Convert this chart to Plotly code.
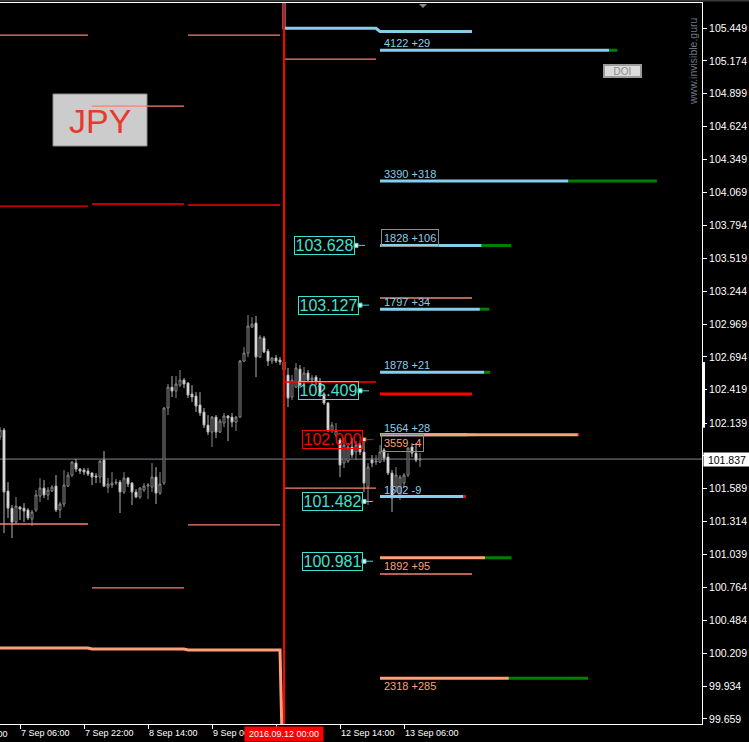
import plotly.graph_objects as go

FONT = "Liberation Sans, Arial, sans-serif"
SKY = "#87CEEB"
LSALMON = "#FFA07A"
SALMON = "#FA8072"
TURQ = "#40E0D0"
GREEN = "#008000"
RED = "#FF0000"

# H1 USDJPY bars, bar index 0 = 2016.09.12 00:00
first_bar = -71
bar_open = [102.021, 102.080, 101.569, 101.426, 101.309, 101.435, 101.426, 101.410, 101.334, 101.410,
            101.527, 101.594, 101.536, 101.569, 101.611, 101.410, 101.460, 101.611, 101.703, 101.804,
            101.753, 101.745, 101.737, 101.720, 101.695, 101.686, 101.829, 101.602, 101.619, 101.636,
            101.644, 101.561, 101.678, 101.636, 101.561, 101.519, 101.578, 101.611, 101.602, 101.686,
            101.552, 101.636, 102.265, 102.440, 102.407, 102.457, 102.499, 102.474, 102.382, 102.365,
            102.290, 102.231, 102.122, 102.063, 102.189, 102.063, 102.139, 102.198, 102.189, 102.147,
            102.189, 102.659, 102.725, 102.943, 102.977, 102.692, 102.851, 102.742, 102.659, 102.684,
            102.667, 102.650, 102.541, 102.357, 102.440, 102.591, 102.474, 102.558, 102.499, 102.524,
            102.483, 102.382, 102.307, 102.080, 102.038, 101.996, 101.804, 101.820, 101.938, 101.896,
            101.954, 101.896, 101.602, 101.829, 101.812, 101.812, 101.913, 101.854, 101.720, 101.602,
            101.519, 101.636, 101.703, 101.938, 101.887, 101.829]
bar_high = [102.105, 102.097, 101.644, 101.452, 101.519, 101.443, 101.468, 101.426, 101.410, 101.578,
            101.678, 101.661, 101.602, 101.619, 101.703, 101.477, 101.745, 101.728, 101.820, 101.837,
            101.762, 101.762, 101.762, 101.728, 101.720, 101.829, 101.904, 101.678, 101.728, 101.670,
            101.661, 101.728, 101.686, 101.644, 101.586, 101.602, 101.636, 101.636, 101.804, 101.770,
            101.728, 102.273, 102.466, 102.533, 102.533, 102.583, 102.516, 102.483, 102.457, 102.398,
            102.398, 102.265, 102.206, 102.198, 102.206, 102.172, 102.223, 102.206, 102.223, 102.198,
            102.667, 102.776, 103.044, 103.027, 103.036, 102.876, 102.868, 102.759, 102.692, 102.709,
            102.692, 102.684, 102.600, 102.541, 102.642, 102.625, 102.608, 102.583, 102.541, 102.541,
            102.516, 102.398, 102.315, 102.147, 102.139, 102.013, 102.013, 101.971, 102.013, 101.988,
            101.971, 101.980, 101.804, 101.871, 101.871, 101.954, 101.929, 101.887, 101.745, 101.770,
            101.703, 101.720, 101.938, 101.971, 101.971, 101.887]
bar_low = [101.996, 101.217, 101.343, 101.175, 101.293, 101.326, 101.309, 101.326, 101.276, 101.393,
           101.477, 101.510, 101.494, 101.561, 101.393, 101.343, 101.435, 101.602, 101.686, 101.728,
           101.711, 101.703, 101.695, 101.619, 101.636, 101.636, 101.602, 101.552, 101.594, 101.619,
           101.385, 101.544, 101.602, 101.452, 101.510, 101.502, 101.561, 101.502, 101.561, 101.460,
           101.536, 101.619, 102.206, 102.357, 102.348, 102.440, 102.432, 102.348, 102.315, 102.231,
           102.198, 102.097, 102.038, 101.938, 102.013, 102.055, 102.105, 101.988, 102.105, 102.072,
           102.181, 102.650, 102.692, 102.935, 102.524, 102.684, 102.725, 102.617, 102.633, 102.642,
           102.625, 102.516, 102.273, 102.332, 102.432, 102.432, 102.440, 102.483, 102.457, 102.457,
           102.357, 102.290, 102.063, 102.055, 102.021, 101.686, 101.762, 101.804, 101.846, 101.829,
           101.871, 101.561, 101.452, 101.770, 101.787, 101.804, 101.812, 101.703, 101.393, 101.561,
           101.494, 101.602, 101.686, 101.854, 101.812, 101.770]
bar_close = [102.080, 101.561, 101.426, 101.309, 101.443, 101.418, 101.401, 101.343, 101.393, 101.536,
             101.594, 101.536, 101.578, 101.602, 101.410, 101.460, 101.619, 101.703, 101.812, 101.753,
             101.737, 101.728, 101.711, 101.686, 101.686, 101.820, 101.611, 101.628, 101.636, 101.644,
             101.561, 101.678, 101.628, 101.561, 101.519, 101.594, 101.611, 101.619, 101.686, 101.552,
             101.628, 102.265, 102.440, 102.407, 102.466, 102.499, 102.466, 102.373, 102.357, 102.281,
             102.223, 102.122, 102.063, 102.189, 102.063, 102.156, 102.198, 102.181, 102.147, 102.189,
             102.659, 102.725, 102.952, 102.968, 102.692, 102.859, 102.734, 102.659, 102.684, 102.659,
             102.650, 102.583, 102.348, 102.499, 102.600, 102.457, 102.558, 102.499, 102.516, 102.483,
             102.382, 102.307, 102.080, 102.122, 102.080, 101.787, 101.954, 101.938, 101.871, 101.954,
             101.896, 101.636, 101.770, 101.804, 101.820, 101.896, 101.846, 101.720, 101.510, 101.703,
             101.686, 101.703, 101.929, 101.887, 101.829, 101.837]
bar_index = list(range(first_bar, first_bar + len(bar_open)))
last_price = 101.837

# axis ticks (the 9 Sep 22:00 and 101.864 labels sit under the red / white price boxes)
x_tick_bars = [-66, -50, -34, -18, -2, 14, 30]
x_tick_text = ["7 Sep 06:00", "7 Sep 22:00", "8 Sep 14:00", "9 Sep 06:00",
               "", "12 Sep 14:00", "13 Sep 06:00"]
y_tick_vals = [105.449, 105.174, 104.899, 104.624, 104.349, 104.069, 103.794, 103.519, 103.244,
               102.969, 102.694, 102.419, 102.139, 101.864, 101.589, 101.314, 101.039, 100.764,
               100.484, 100.209, 99.934, 99.659]
y_tick_text = ["" if v == 101.864 else f"{v:.3f}" for v in y_tick_vals]
X_RANGE = [-71, 104.5]
Y_RANGE = [99.617, 105.659]

# daily levels (start bar, end bar, price)
thin_salmon_start = [-72, -24, -48, 0, 24, -72, -48, -24, 0, 24]
thin_salmon_end = [-49, -1, -25, 23, 47, -49, -25, -1, 23, 47]
thin_salmon_price = [105.390, 105.390, 104.795, 105.189, 103.187, 101.293, 100.757, 101.285, 101.594, 100.874]
thin_red_start = [-72, -48, -24, 0]
thin_red_end = [-49, -25, -1, 23]
thin_red_price = [103.957, 103.974, 103.966, 102.483]
thick_red_start = [24]
thick_red_end = [47]
thick_red_price = [102.382]

# indicator lines running across the chart
blue_bars = [0, 0, 23, 24, 47]
blue_price = [106.5, 105.447, 105.447, 105.420, 105.420]
salmon_bars = [-72, -49, -48, -25, -24, -1, 0]
salmon_price = [100.254, 100.254, 100.245, 100.245, 100.237, 100.237, 98.8]

# option open interest at strikes (13 Sep)
level_start = 24
oi_scale = 0.0139          # bars per contract
chg_scale = oi_scale * 5
call_strike = [105.263, 104.167, 103.627, 103.093, 102.564, 102.041, 101.523]
call_oi = [4122, 3390, 1828, 1797, 1878, 1564, 1502]
call_chg = [29, 318, 106, 34, 21, 28, -9]
call_boxed = [False, False, True, False, False, False, False]
put_strike = [102.041, 101.010, 100.000]
put_oi = [3559, 1892, 2318]
put_chg = [-4, 95, 285]
put_boxed = [True, False, False]

# price labels
lbl_price = [103.628, 103.127, 102.409, 102.000, 101.482, 100.981]
lbl_bar = [18, 19, 19, 20, 20, 20]
lbl_color = [TURQ, TURQ, TURQ, RED, TURQ, TURQ]


def segs(starts, ends, prices):
    xs, ys = [], []
    for a, b, p in zip(starts, ends, prices):
        xs += [a, b, None]
        ys += [p, p, None]
    return xs, ys


def line(xs, ys, color, width):
    return go.Scatter(x=xs, y=ys, mode="lines", line=dict(color=color, width=width),
                      hoverinfo="skip", showlegend=False)


fig = go.Figure()

fig.add_trace(go.Candlestick(
    x=bar_index, open=bar_open, high=bar_high, low=bar_low, close=bar_close,
    increasing=dict(line=dict(color="#8a8a8a", width=1), fillcolor="black"),
    decreasing=dict(line=dict(color="#b4b4b4", width=1), fillcolor="white"),
    whiskerwidth=0, showlegend=False))

fig.add_trace(line(*segs(thin_salmon_start, thin_salmon_end, thin_salmon_price), SALMON, 1.3))
fig.add_trace(line(*segs(thin_red_start, thin_red_end, thin_red_price), RED, 1.4))
fig.add_trace(line(*segs(thick_red_start, thick_red_end, thick_red_price), RED, 3))
fig.add_trace(line(blue_bars, blue_price, SKY, 3))
fig.add_trace(line(salmon_bars, salmon_price, LSALMON, 3))

annotations = []


def oi_levels(strikes, ois, chgs, boxed, color, label_shift):
    for s, oi, ch, bx in zip(strikes, ois, chgs, boxed):
        end = level_start + oi * oi_scale
        fig.add_trace(line([level_start, end], [s, s], color, 3))
        fig.add_trace(line([end, end + abs(ch) * chg_scale], [s, s], GREEN if ch > 0 else RED, 3))
        annotations.append(dict(
            x=level_start, y=s, xanchor="left", yanchor="middle", yshift=label_shift, xshift=1,
            text=f"{oi} {ch:+d}", showarrow=False,
            font=dict(family=FONT, size=11, color=color),
            bordercolor="#8c8c8c" if bx else "rgba(0,0,0,0)", borderwidth=1, borderpad=2))


oi_levels(call_strike, call_oi, call_chg, call_boxed, SKY, 7)
oi_levels(put_strike, put_oi, put_chg, put_boxed, LSALMON, -8)

for p, b, c in zip(lbl_price, lbl_bar, lbl_color):
    fig.add_trace(line([b, b + 2.25], [p, p], c, 1))
    fig.add_trace(go.Scatter(x=[b], y=[p], mode="markers", hoverinfo="skip", showlegend=False,
                             marker=dict(symbol="square", size=4, color="#dffaf6",
                                         line=dict(color=c, width=1))))
    annotations.append(dict(
        x=b, y=p, xanchor="right", yanchor="middle", xshift=-1, text=f"{p:.3f}",
        showarrow=False, font=dict(family=FONT, size=16, color=c),
        bordercolor=c, borderwidth=1, borderpad=1, width=57, height=15))

# last price label on the axis
annotations.append(dict(
    xref="paper", x=1, xanchor="left", xshift=1, y=last_price, yanchor="middle",
    text=f"{last_price:.3f}", showarrow=False, bgcolor="white",
    font=dict(family=FONT, size=10.5, color="black"), width=44, height=11, borderpad=1))

# red time label of the vertical line
annotations.append(dict(
    x=0, xanchor="center", yref="paper", y=0, yanchor="top", yshift=-2,
    text="2016.09.12 00:00", showarrow=False, bgcolor=RED,
    font=dict(family=FONT, size=9, color="white"), width=76, height=12, borderpad=1))

# cut-off time label at the left edge
annotations.append(dict(
    xref="paper", x=(-82 - X_RANGE[0]) / (X_RANGE[1] - X_RANGE[0]), xanchor="left", xshift=1,
    yref="paper", y=0, yanchor="top", yshift=-3, text="6 Sep 14:00", showarrow=False,
    font=dict(family=FONT, size=9, color="white")))

# buttons and watermark
annotations.append(dict(
    xref="paper", yref="paper", x=100 / 702, y=(724 - 121) / 721, xanchor="center",
    yanchor="middle", text="JPY", showarrow=False,
    font=dict(family=FONT, size=34, color="#e8392e")))
annotations.append(dict(
    xref="paper", yref="paper", x=622 / 702, y=(724 - 71.5) / 721, xanchor="center",
    yanchor="middle", text="DOI", showarrow=False,
    bgcolor="#dcdcdc", bordercolor="#9a9a9a", borderwidth=2, borderpad=0, width=35, height=10,
    font=dict(family=FONT, size=10, color="#8a8a8a")))
annotations.append(dict(
    xref="paper", yref="paper", x=693 / 702, y=(724 - 61) / 721, xanchor="center",
    yanchor="middle", text="www.invisible.guru",
    textangle=-90, showarrow=False, font=dict(family=FONT, size=10.5, color="#6f7780")))

shapes = [
    dict(type="rect", xref="paper", yref="paper", x0=53 / 702, x1=147 / 702,
         y0=(724 - 146) / 721, y1=(724 - 94) / 721, fillcolor="#cccccc",
         line=dict(color="#8c8c8c", width=1), layer="below"),
    dict(type="line", xref="paper", x0=0, x1=1, y0=last_price, y1=last_price,
         line=dict(color="#7d8a97", width=1), layer="below"),
    dict(type="line", x0=0, x1=0, yref="paper", y0=0, y1=1, line=dict(color=RED, width=2)),
    dict(type="rect", xref="paper", x0=1, x1=1 + 3 / 702, y0=102.10, y1=102.65,
         fillcolor="white", line=dict(width=0)),
    dict(type="path", xref="paper", yref="paper",
         path=f"M {419/702},{1 - 1/721} L {427/702},{1 - 1/721} L {423/702},{1 - 5/721} Z",
         fillcolor="#8c8c8c", line=dict(width=0)),
    dict(type="line", xref="paper", yref="paper", x0=0, x1=1 + 47 / 702,
         y0=1 + 2.5 / 721, y1=1 + 2.5 / 721, line=dict(color="#3a3a3a", width=2)),
]

fig.update_layout(
    width=749, height=742, template="none",
    margin=dict(l=0, r=47, t=3, b=18),
    paper_bgcolor="black", plot_bgcolor="black",
    showlegend=False, hovermode=False,
    annotations=annotations, shapes=shapes,
    xaxis=dict(range=X_RANGE, rangeslider=dict(visible=False), showgrid=False, zeroline=False,
               showline=True, mirror=True, linecolor="white", linewidth=1,
               ticks="outside", ticklen=4, tickcolor="white",
               tickvals=x_tick_bars, ticktext=x_tick_text, ticklabelposition="outside right",
               tickfont=dict(family=FONT, size=9, color="white"), automargin=False),
    yaxis=dict(range=Y_RANGE, side="right", showgrid=False, zeroline=False,
               showline=True, linecolor="white", linewidth=1,
               ticks="outside", ticklen=4, tickcolor="white",
               tickvals=y_tick_vals, ticktext=y_tick_text,
               tickfont=dict(family=FONT, size=10.5, color="white"), automargin=False),
)

fig.write_html("out.html", config={"displayModeBar": False},
               post_script="document.body.style.margin='0';"
                           "document.body.style.overflow='hidden';"
                           "document.body.style.background='black';")
